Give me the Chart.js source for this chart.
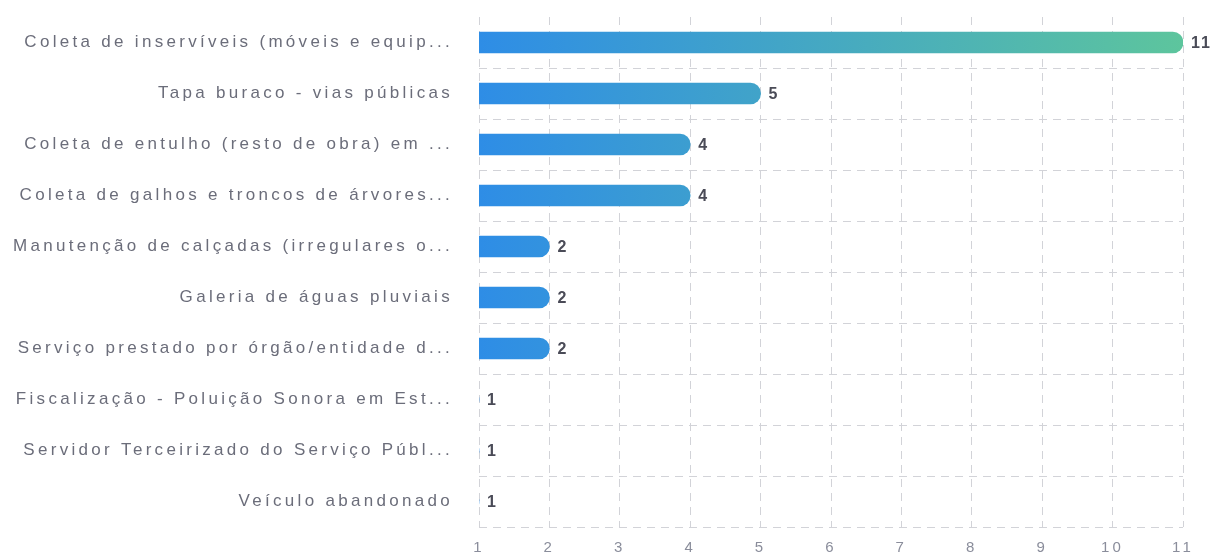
<!DOCTYPE html>
<html>
<head>
<meta charset="utf-8">
<script src="https://cdn.jsdelivr.net/npm/chart.js@4.4.1/dist/chart.umd.min.js"></script>
<style>
html, body { margin: 0; padding: 0; background: #fff; }
#wrap { width: 1214px; height: 560px; }
</style>
</head>
<body>
<div id="wrap"><canvas id="grafico" width="1214" height="560"></canvas></div>
<script>
const categorias = [
    'Coleta de inservíveis (móveis e equip...',
    'Tapa buraco - vias públicas',
    'Coleta de entulho (resto de obra) em ...',
    'Coleta de galhos e troncos de árvores...',
    'Manutenção de calçadas (irregulares o...',
    'Galeria de águas pluviais',
    'Serviço prestado por órgão/entidade d...',
    'Fiscalização - Poluição Sonora em Est...',
    'Servidor Terceirizado do Serviço Públ...',
    'Veículo abandonado'
];
const valores = [11, 5, 4, 4, 2, 2, 2, 1, 1, 1];
const escalaX = { min: 1, max: 11, passo: 1 };

const fonte = '"Liberation Sans", Arial, sans-serif';
const corGrade = '#d2d3d8';

// espaçamento entre letras (o canvas do Chromium aceita letterSpacing)
const espacamento = {
    id: 'espacamento',
    beforeDraw(chart) {
        chart.ctx.letterSpacing = '3.3px';
    }
};

// rótulos de valor no fim de cada barra
const rotulos = {
    id: 'rotulos',
    afterDatasetsDraw(chart) {
        const ctx = chart.ctx;
        const meta = chart.getDatasetMeta(0);
        ctx.save();
        ctx.letterSpacing = '2px';
        ctx.font = 'bold 16px ' + fonte;
        ctx.fillStyle = '#4a4b57';
        ctx.textAlign = 'left';
        ctx.textBaseline = 'middle';
        meta.data.forEach((barra, i) => {
            ctx.fillText(String(valores[i]), barra.x + 8, barra.y + 1);
        });
        ctx.restore();
    }
};

function gradiente(context) {
    const area = context.chart.chartArea;
    if (!area) return '#3090e4';
    const g = context.chart.ctx.createLinearGradient(area.left, 0, area.right, 0);
    g.addColorStop(0, '#2e8de6');
    g.addColorStop(1, '#5dc59d');
    return g;
}

const ctx = document.getElementById('grafico').getContext('2d');
new Chart(ctx, {
    type: 'bar',
    data: {
        labels: categorias,
        datasets: [{
            data: valores,
            backgroundColor: gradiente,
            barThickness: 21,
            borderRadius: 11,
            borderSkipped: 'start'
        }]
    },
    options: {
        indexAxis: 'y',
        responsive: false,
        devicePixelRatio: 1,
        animation: false,
        layout: { padding: { top: 17, right: 31, bottom: 0, left: 0 } },
        plugins: {
            legend: { display: false },
            tooltip: { enabled: false }
        },
        scales: {
            x: {
                min: escalaX.min,
                max: escalaX.max,
                afterFit(scale) { scale.height = 33; },
                ticks: {
                    stepSize: escalaX.passo,
                    padding: 12,
                    color: '#8a8d9b',
                    font: { family: fonte, size: 15 }
                },
                grid: { color: corGrade, drawTicks: false, lineWidth: 1 },
                border: { display: false, dash: [8, 6] }
            },
            y: {
                afterFit(scale) {
                    scale.width = 479;
                    scale.paddingTop = 0;
                    scale.paddingBottom = 0;
                },
                ticks: {
                    padding: 26,
                    color: '#6b6d7a',
                    font: { family: fonte, size: 17 }
                },
                grid: {
                    offset: true,
                    drawTicks: false,
                    color: (c) => c.index === 0 ? 'rgba(0,0,0,0)' : corGrade
                },
                border: { display: false, dash: [8, 6] }
            }
        }
    },
    plugins: [espacamento, rotulos]
});
</script>
</body>
</html>
